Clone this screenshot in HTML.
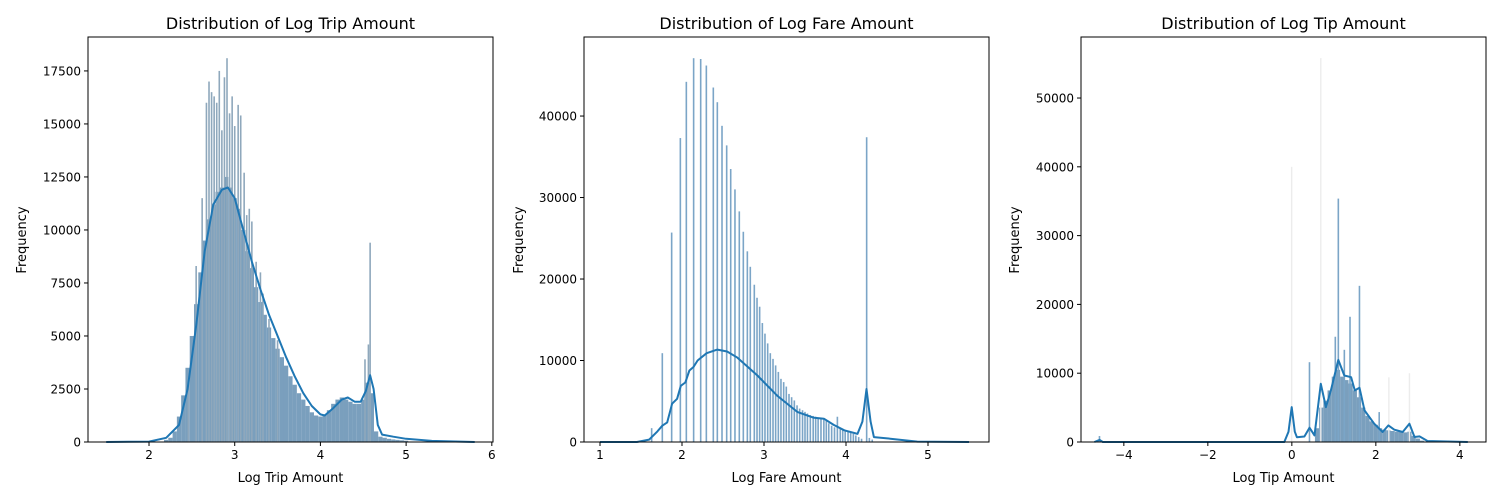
<!DOCTYPE html>
<html><head><meta charset="utf-8"><style>
html,body{margin:0;padding:0;background:#fff;}
svg{display:block;font-family:"DejaVu Sans","Liberation Sans",sans-serif;}
</style></head><body>
<svg id="fig" width="1500" height="500" xmlns="http://www.w3.org/2000/svg"></svg>
<script>
// ---- Panel 1: Log Trip Amount ----
const tripBinX = [2.20,2.25,2.30,2.35,2.40,2.45,2.50,2.55,2.60,2.65,2.70,2.75,2.80,2.85,2.90,2.95,3.00,3.05,3.10,3.15,3.20,3.25,3.30,3.35,3.40,3.45,3.50,3.55,3.60,3.65,3.70,3.75,3.80,3.85,3.90,3.95,4.00,4.05,4.10,4.15,4.20,4.25,4.30,4.35,4.40,4.45,4.50,4.55,4.60,4.65,4.70,4.75,4.80,4.85,4.90,4.95,5.00];
const tripBinY = [100,200,500,1200,2200,3500,5000,6500,8000,9500,10500,11200,11800,12000,12500,12000,11500,11000,10000,9000,8200,7300,6600,6000,5400,4900,4400,4000,3600,3100,2700,2300,2000,1700,1400,1250,1200,1300,1500,1800,2000,2100,2000,1900,1800,1800,2000,2800,2300,500,250,200,150,120,100,80,60];
const tripSpikeX = [2.46,2.55,2.62,2.67,2.70,2.73,2.76,2.79,2.82,2.85,2.88,2.91,2.94,2.97,3.00,3.04,3.07,3.11,3.14,3.17,3.20,3.25,3.30,3.33,3.40,3.50,4.52,4.56,4.58];
const tripSpikeY = [2800,8300,11500,16000,17000,16500,16300,16000,17500,14700,17200,18100,15500,16300,14900,15900,15400,12700,10700,11000,10400,8500,8000,7000,5800,4800,3900,4600,9400];
const tripKdeX = [1.5,2.0,2.2,2.35,2.45,2.55,2.65,2.75,2.85,2.92,3.0,3.1,3.2,3.3,3.4,3.5,3.6,3.7,3.8,3.9,4.0,4.05,4.15,4.25,4.32,4.4,4.47,4.53,4.58,4.62,4.67,4.72,4.85,5.0,5.3,5.8];
const tripKdeY = [0,20,200,800,2500,5500,9000,11200,11900,12000,11500,10000,8500,7200,6000,5000,4000,3100,2300,1700,1300,1250,1600,2000,2100,1900,1900,2400,3150,2500,800,350,250,150,50,0];
const tripXTicks = [2,3,4,5,6];
const tripYTicks = [0,2500,5000,7500,10000,12500,15000,17500];

// ---- Panel 2: Log Fare Amount ----
const fareBinX = [];
const fareBinY = [];
const fareSpikeX = [1.63,1.76,1.874,1.98,2.053,2.142,2.228,2.297,2.382,2.431,2.488,2.545,2.594,2.646,2.699,2.748,2.797,2.833,2.882,2.915,2.947,2.98,3.012,3.045,3.077,3.11,3.142,3.175,3.207,3.24,3.272,3.305,3.337,3.37,3.403,3.435,3.47,3.5,3.53,3.565,3.6,3.63,3.66,3.695,3.73,3.76,3.79,3.825,3.86,3.895,3.93,3.96,3.99,4.025,4.057,4.09,4.12,4.155,4.19,4.252,4.285,4.32];
const fareSpikeY = [1700,10900,25700,37300,44200,47100,47000,46200,43500,41700,38800,36400,33500,31000,28300,25800,23400,21500,19300,17700,16600,14600,13300,12100,10900,10200,9400,8600,7750,7350,6800,5900,5500,5100,4500,4100,3900,3700,3500,3300,3200,3100,3000,2900,2800,2600,2300,2000,1800,3100,1700,1500,1400,1300,1200,1000,800,600,400,37400,500,300];
const fareKdeX = [1.0,1.45,1.6,1.7,1.76,1.82,1.88,1.94,1.985,2.04,2.09,2.14,2.19,2.3,2.43,2.55,2.67,2.92,3.16,3.41,3.6,3.73,3.85,3.98,4.14,4.2,4.25,4.3,4.34,4.54,4.87,5.5];
const fareKdeY = [0,0,300,1300,2000,2400,4700,5300,6900,7300,8770,9200,10000,10900,11340,11100,10400,8160,5700,3670,3000,2860,2100,1430,1000,2500,6500,2500,600,400,50,0];
const fareXTicks = [1,2,3,4,5];
const fareYTicks = [0,10000,20000,30000,40000];

// ---- Panel 3: Log Tip Amount ----
const tipBinX = [0.6,0.7,0.8,0.9,1.0,1.1,1.2,1.3,1.4,1.5,1.6,1.7,1.8,1.9,2.0,2.1,2.2,2.3,2.4,2.5,2.6,2.7,2.8,2.9,3.0,3.1];
const tipBinY = [2000,5000,6000,7500,9500,10500,9500,9000,8500,7500,6500,5000,3800,3000,2500,2000,1800,1700,1600,1500,1500,1400,1500,900,500,200];
const tipSpikeX = [-4.58,0.42,1.035,1.107,1.25,1.385,1.61,2.08];
const tipSpikeY = [870,11600,15300,35380,13400,18200,22700,4350];
const tipFaintX = [-0.004,0.69,2.31,2.80];
const tipFaintY = [40000,55800,9400,10000];
const tipKdeX = [-4.7,-4.58,-4.5,-0.18,-0.08,-0.004,0.07,0.12,0.30,0.42,0.54,0.69,0.81,0.93,1.107,1.25,1.41,1.50,1.61,1.73,1.96,2.16,2.30,2.44,2.64,2.80,2.92,3.04,3.23,4.19];
const tipKdeY = [0,300,0,0,1500,5070,1500,700,800,2080,960,8460,5070,7500,11940,9670,9420,7500,7880,4600,2660,1450,2420,1790,1450,2660,725,820,150,0];
const tipXTicks = [-4,-2,0,2,4];
const tipYTicks = [0,10000,20000,30000,40000,50000];

const NS = 'http://www.w3.org/2000/svg';
const svg = document.getElementById('fig');
function mk(tag, attrs, parent) {
  const e = document.createElementNS(NS, tag);
  for (const k in attrs) e.setAttribute(k, attrs[k]);
  (parent || svg).appendChild(e);
  return e;
}
const TOP = 37, BOT = 442;

function panel(cfg) {
  const g = mk('g', {});
  
  
  const sx = v => cfg.left + (v - cfg.xmin) * cfg.pxu;
  const sy = v => BOT - (v / cfg.ymax) * (BOT - TOP);
  const bars = mk('g', {}, g);
  
  
  for (let i = 0; i < cfg.binX.length; i++) {
    const x0 = sx(cfg.binX[i] - cfg.bw / 2), x1 = sx(cfg.binX[i] + cfg.bw / 2);
    const r = mk('rect', {x: x0, y: sy(cfg.binY[i]), width: x1 - x0, height: BOT - sy(cfg.binY[i]), fill: '#7a9fbd'}, bars);
    
    
  }
  if (cfg.faintX) for (let i = 0; i < cfg.faintX.length; i++) {
    const r = mk('rect', {x: sx(cfg.faintX[i]) - 0.7, y: sy(cfg.faintY[i]), width: 1.4, height: BOT - sy(cfg.faintY[i]), fill: '#ececec'}, bars);
    
    
  }
  for (let i = 0; i < cfg.spX.length; i++) {
    const r = mk('rect', {x: sx(cfg.spX[i]) - 0.8, y: sy(cfg.spY[i]), width: 1.6, height: BOT - sy(cfg.spY[i]), fill: cfg.spColor}, bars);
    
    
  }
  let d = '';
  for (let i = 0; i < cfg.kX.length; i++) d += (i ? 'L' : 'M') + sx(cfg.kX[i]).toFixed(1) + ',' + sy(cfg.kY[i]).toFixed(1);
  const kde = mk('path', {d: d, fill: 'none', stroke: '#1f77b4', 'stroke-width': 2, 'stroke-linejoin': 'round'}, g);
  
  
  const frame = mk('rect', {x: cfg.left, y: TOP, width: 405, height: 405, fill: 'none', stroke: '#000', 'stroke-width': 1}, g);
  
  
  cfg.xt.forEach(t => {
    const x = sx(t);
    mk('line', {x1: x, x2: x, y1: BOT, y2: BOT + 4, stroke: '#000'}, g);
    const tx = mk('text', {x: x, y: BOT + 17, 'font-size': 12, 'text-anchor': 'middle', fill: '#000'}, g);
    tx.textContent = t < 0 ? '\u2212' + (-t) : String(t);
    
    
  });
  cfg.yt.forEach(t => {
    const y = sy(t);
    mk('line', {x1: cfg.left - 4, x2: cfg.left, y1: y, y2: y, stroke: '#000'}, g);
    const tx = mk('text', {x: cfg.left - 7, y: y + 4.5, 'font-size': 12, 'text-anchor': 'end', fill: '#000'}, g);
    tx.textContent = String(t);
    
    
  });
  const title = mk('text', {x: cfg.left + 202.5, y: 29, 'font-size': 16, 'text-anchor': 'middle', fill: '#000'}, g);
  title.textContent = cfg.title;
  
  
  const xl = mk('text', {x: cfg.left + 202.5, y: 482, 'font-size': 13, 'text-anchor': 'middle', fill: '#000'}, g);
  xl.textContent = cfg.xlabel;
  
  
  const yl = mk('text', {x: 0, y: 0, 'font-size': 13, 'text-anchor': 'middle', fill: '#000', transform: 'translate(' + cfg.ylx + ',240) rotate(-90)'}, g);
  yl.textContent = 'Frequency';
  
  
}

panel({name: 'trip-amount-panel', left: 88, xmin: 1.288, pxu: 85.7, ymax: 19100, bw: 0.05,
  binX: tripBinX, binY: tripBinY, spX: tripSpikeX, spY: tripSpikeY, spColor: '#8fa8bc',
  kX: tripKdeX, kY: tripKdeY, xt: tripXTicks, yt: tripYTicks,
  title: 'Distribution of Log Trip Amount', xlabel: 'Log Trip Amount', ylx: 26});
panel({name: 'fare-amount-panel', left: 584, xmin: 0.805, pxu: 82, ymax: 49700, bw: 0.03,
  binX: fareBinX, binY: fareBinY, spX: fareSpikeX, spY: fareSpikeY, spColor: '#7ba5c7',
  kX: fareKdeX, kY: fareKdeY, xt: fareXTicks, yt: fareYTicks,
  title: 'Distribution of Log Fare Amount', xlabel: 'Log Fare Amount', ylx: 523});
panel({name: 'tip-amount-panel', left: 1081, xmin: -5.02, pxu: 42, ymax: 58870, bw: 0.1,
  binX: tipBinX, binY: tipBinY, spX: tipSpikeX, spY: tipSpikeY, spColor: '#7ba5c7',
  faintX: tipFaintX, faintY: tipFaintY,
  kX: tipKdeX, kY: tipKdeY, xt: tipXTicks, yt: tipYTicks,
  title: 'Distribution of Log Tip Amount', xlabel: 'Log Tip Amount', ylx: 1019});
</script>
</body></html>
